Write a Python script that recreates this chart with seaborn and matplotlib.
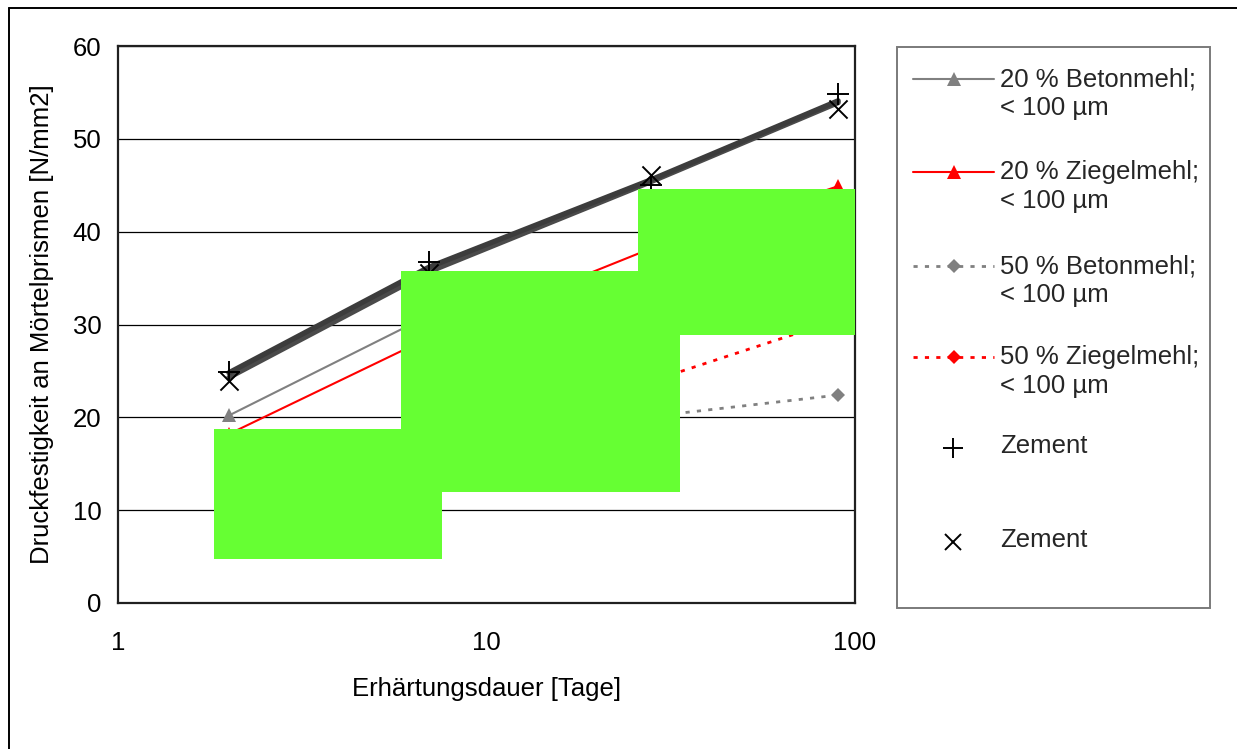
import matplotlib
matplotlib.use("Agg")
import matplotlib.pyplot as plt
from matplotlib.patches import Rectangle
from matplotlib.lines import Line2D
import seaborn as sns

# Druckfestigkeit an Mörtelprismen [N/mm2] über Erhärtungsdauer [Tage]
tage = [2, 7, 28, 90]
beton20 = [20.2, 31.0, 35.0, 40.0]
ziegel20 = [18.2, 28.6, 38.2, 44.9]
beton50 = [10.5, 16.5, 20.1, 22.4]
ziegel50 = [12.5, 19.0, 23.9, 30.5]
zement_plus = [24.9, 36.7, 45.0, 54.8]
zement_kreuz = [23.9, 35.5, 46.1, 53.2]
# dicke Verbindungslinien der Zement-Reihen
zement_linie_a = [24.8, 36.2, 45.6, 54.1]
zement_linie_b = [24.3, 35.7, 45.4, 53.9]

y_ticks = [0, 10, 20, 30, 40, 50, 60]
x_ticks = [1, 10, 100]
x_ticklabels = ["1", "10", "100"]

legend_labels = ["20 % Betonmehl;", "20 % Ziegelmehl;", "50 % Betonmehl;",
                 "50 % Ziegelmehl;", "Zement", "Zement"]

W, H = 1237, 749
FS = 18.5

sns.set_theme(style="white")
plt.rcParams["font.family"] = ["Liberation Sans", "DejaVu Sans"]

fig = plt.figure(figsize=(W / 100, H / 100), dpi=100)
fig.patch.set_facecolor("white")


def fx(px):
    return px / W


def fy(py):
    return 1 - py / H


ax = fig.add_axes([fx(118), fy(603), fx(855) - fx(118), fy(46) - fy(603)])
ax.set_xscale("log")

gray = "#808080"
red = "#ff0000"
dark = "#3c3c3c"
dots = (0, (1.5, 2.6))

sns.lineplot(x=tage, y=zement_linie_b, ax=ax, color="#4a4a4a", linewidth=3.8, zorder=3)
sns.lineplot(x=tage, y=zement_linie_a, ax=ax, color=dark, linewidth=3.8, zorder=3)

sns.lineplot(x=tage, y=beton20, ax=ax, color=gray, linewidth=1.5, marker="^",
             markersize=10, markeredgewidth=0, zorder=4)
sns.lineplot(x=tage, y=ziegel20, ax=ax, color=red, linewidth=1.5, marker="^",
             markersize=10, markeredgewidth=0, zorder=4)
sns.lineplot(x=tage, y=beton50, ax=ax, color=gray, linewidth=2, linestyle=dots,
             marker="D", markersize=7, markeredgewidth=0, zorder=4)
sns.lineplot(x=tage, y=ziegel50, ax=ax, color=red, linewidth=2, linestyle=dots,
             marker="D", markersize=7, markeredgewidth=0, zorder=4)

sns.scatterplot(x=tage, y=zement_plus, ax=ax, marker="+", s=230, color="black",
                linewidth=1.4, zorder=5)
sns.scatterplot(x=tage, y=zement_kreuz, ax=ax, marker="x", s=170, color="black",
                linewidth=1.4, zorder=5)

ax.set_xlim(1, 100)
ax.set_ylim(0, 60)
ax.set_yticks(y_ticks)
ax.set_xticks(x_ticks)
ax.set_xticklabels(x_ticklabels)
ax.xaxis.set_minor_locator(matplotlib.ticker.NullLocator())
ax.tick_params(axis="y", length=0, pad=12, labelsize=FS, labelcolor="black")
ax.tick_params(axis="x", length=0, pad=20, labelsize=FS, labelcolor="black")
ax.grid(axis="y", color="black", linewidth=0.9)
ax.grid(axis="x", visible=False)
ax.set_axisbelow(True)
for side in ["left", "bottom", "top", "right"]:
    ax.spines[side].set_visible(True)
    ax.spines[side].set_color("#202020")
    ax.spines[side].set_linewidth(1.6)

ax.set_xlabel("Erhärtungsdauer [Tage]", fontsize=FS, color="black")
ax.set_ylabel("Druckfestigkeit an Mörtelprismen [N/mm2]", fontsize=FS, color="black")
ax.xaxis.set_label_coords(0.5, -0.133)
ax.yaxis.set_label_coords(-0.087, 0.5)

# Rahmen um das Diagramm (nur oben und links sichtbar)
fig.add_artist(Line2D([fx(9), fx(9)], [fy(8), 0], color="black", lw=1.4))
fig.add_artist(Line2D([fx(9), 1], [fy(8), fy(8)], color="black", lw=1.4))

# Legende
fig.add_artist(Rectangle((fx(897), fy(608)), fx(1210) - fx(897), fy(47) - fy(608),
                         facecolor="white", edgecolor="#7a7a7a", lw=1.4))
entries = [
    (79, gray, "-", "^", 10),
    (172, red, "-", "^", 10),
    (266, gray, dots, "D", 7),
    (357, red, dots, "D", 7),
]
for (yy, col, ls, mk, ms), lab in zip(entries, legend_labels[:4]):
    fig.add_artist(Line2D([fx(913), fx(994)], [fy(yy), fy(yy)], color=col,
                          lw=1.5 if ls == "-" else 2, linestyle=ls))
    fig.add_artist(Line2D([fx(954)], [fy(yy)], color=col, marker=mk,
                          markersize=ms, markeredgewidth=0, linestyle="none"))
    fig.text(fx(1000), fy(yy), lab, fontsize=FS, va="center", ha="left")
    fig.text(fx(1000), fy(yy + 29), "< 100 µm", fontsize=FS, va="center", ha="left")

fig.add_artist(Line2D([fx(953)], [fy(448)], color="black", marker="+",
                      markersize=15, markeredgewidth=1.4, linestyle="none"))
fig.text(fx(1000), fy(446), legend_labels[4], fontsize=FS, va="center", ha="left")
fig.add_artist(Line2D([fx(953)], [fy(542)], color="black", marker="x",
                      markersize=12, markeredgewidth=1.4, linestyle="none"))
fig.text(fx(1000), fy(540), legend_labels[5], fontsize=FS, va="center", ha="left")

# grüne Abdeckflächen
green = "#66ff33"
for x0, y0, x1, y1 in [(214, 429, 442, 559), (401, 271, 680, 492), (638, 189, 855, 335)]:
    fig.add_artist(Rectangle((fx(x0), fy(y1)), fx(x1) - fx(x0), fy(y0) - fy(y1),
                             facecolor=green, edgecolor="none", zorder=10))

fig.savefig("out.png", dpi=100, facecolor="white")
